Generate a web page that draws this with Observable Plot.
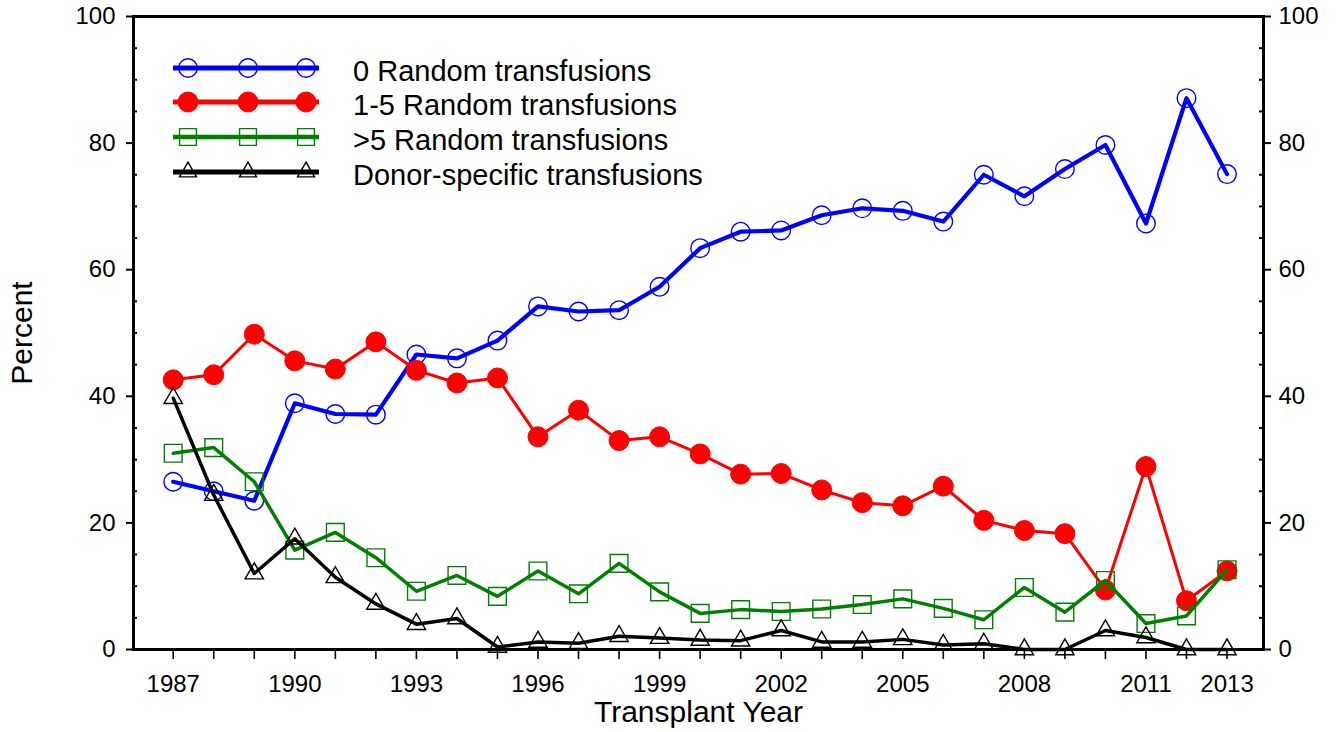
<!DOCTYPE html>
<html>
<head>
<meta charset="utf-8">
<script src="https://cdn.jsdelivr.net/npm/d3@7"></script>
<script src="https://cdn.jsdelivr.net/npm/@observablehq/plot@0.6"></script>
<style>
  html, body { margin: 0; padding: 0; background: #fff; }
  #wrap { position: relative; width: 1339px; height: 732px; font-family: "Liberation Sans", Arial, sans-serif; }
  #legend { position: absolute; left: 0; top: 0; pointer-events: none; }
</style>
</head>
<body>
<div id="wrap"></div>
<script>
// ---- data ----
const years = [1987,1988,1989,1990,1991,1992,1993,1994,1995,1996,1997,1998,1999,2000,2001,2002,2003,2004,2005,2006,2007,2008,2009,2010,2011,2012,2013];
const zeroRandom    = [26.5,25.0,23.5,38.9,37.2,37.1,46.6,46.0,48.8,54.2,53.4,53.6,57.3,63.4,66.0,66.2,68.6,69.7,69.3,67.6,75.0,71.6,75.9,79.7,67.3,87.1,75.1];
const oneToFive     = [42.6,43.4,49.8,45.6,44.3,48.6,44.1,42.1,42.9,33.6,37.8,33.0,33.6,30.9,27.7,27.8,25.2,23.2,22.7,25.8,20.4,18.8,18.3,9.4,28.9,7.7,12.4];
const overFive      = [31.0,31.9,26.5,15.7,18.5,14.5,9.2,11.7,8.4,12.4,8.8,13.6,9.1,5.7,6.3,6.0,6.4,7.1,8.0,6.5,4.7,9.8,5.9,10.9,4.1,5.3,12.6];
const donorSpecific = [39.7,24.4,12.0,17.5,11.4,7.2,4.0,4.9,0.4,1.2,1.0,2.1,1.8,1.5,1.4,3.0,1.2,1.2,1.6,0.7,0.9,0,0,3.0,1.9,0,0];
const seriesNames = ["0 Random transfusions","1-5 Random transfusions",">5 Random transfusions","Donor-specific transfusions"];
const labelYears = [1987,1990,1993,1996,1999,2002,2005,2008,2011,2013];
const yTicks = [0,20,40,60,80,100];
const yMinor = [5,10,15,25,30,35,45,50,55,65,70,75,85,90,95];
const xTitle = "Transplant Year";
const yTitle = "Percent";

const W = 1339, H = 732, ML = 133, MR = 76, MT = 16, MB = 83;
const innerW = W - ML - MR;

const styles = [
  {stroke: "#0000ff", width: 4.2, symbol: "circle",   r: 9.3, fill: "none",    sw: 1.4},
  {stroke: "#ff0000", width: 3,   symbol: "circle",   r: 10,  fill: "#ff0000", sw: 1},
  {stroke: "#008000", width: 3.5, symbol: "square",   r: 10,  fill: "none",    sw: 1.4},
  {stroke: "#000000", width: 3.5, symbol: "triangle", r: 6.8, fill: "none",    sw: 1.4}
];
const series = [zeroRandom, oneToFive, overFive, donorSpecific];

const marks = [];
series.forEach((vals, k) => {
  const s = styles[k];
  marks.push(Plot.line(vals, {x: (d, i) => years[i], y: d => d, stroke: s.stroke, strokeWidth: s.width, strokeLinejoin: "round"}));
  marks.push(Plot.dot(vals, {x: (d, i) => years[i], y: d => d, symbol: s.symbol, r: s.r, fill: s.fill, stroke: s.stroke, strokeWidth: s.sw}));
});

const chart = Plot.plot({
  width: W, height: H,
  marginLeft: ML, marginRight: MR, marginTop: MT, marginBottom: MB,
  style: {fontFamily: '"Liberation Sans", Arial, sans-serif', fontSize: "24px", color: "#000", background: "#fff"},
  x: {domain: [1986.02, 2013.9]},
  y: {domain: [0, 100]},
  marks: [
    Plot.axisX({ticks: years, tickSize: 10, tickPadding: 15, strokeWidth: 1.6, label: null,
      tickFormat: d => labelYears.includes(d) ? String(d) : ""}),
    Plot.axisY({anchor: "left", ticks: yTicks, tickSize: 7, tickPadding: 11, strokeWidth: 2, label: null}),
    Plot.axisY({anchor: "right", ticks: yTicks, tickSize: 7, tickPadding: 8, strokeWidth: 2, label: null}),
    Plot.tickY(yMinor, {y: d => d, insetRight: innerW - 4, strokeWidth: 2}),
    Plot.tickY(yMinor, {y: d => d, insetLeft: innerW - 4, strokeWidth: 2}),
    ...marks,
    Plot.frame({stroke: "#000", strokeWidth: 3}),
    Plot.text([xTitle], {frameAnchor: "bottom", dy: 63, fontSize: 30, lineAnchor: "middle", textAnchor: "middle"}),
    Plot.text([yTitle], {frameAnchor: "left", dx: -111, rotate: -90, fontSize: 30, lineAnchor: "middle", textAnchor: "middle"})
  ]
});
document.getElementById("wrap").appendChild(chart);

// ---- legend (overlay inside the plot area, top-left) ----
const leg = d3.select("#wrap").append("svg").attr("id", "legend").attr("width", W).attr("height", 200);
const symMap = {circle: d3.symbolCircle, square: d3.symbolSquare, triangle: d3.symbolTriangle};
const rowY = [68, 102, 137, 172];
const legLineWidth = [5, 5, 4.5, 5];
seriesNames.forEach((name, k) => {
  const s = styles[k];
  const y = rowY[k];
  leg.append("line").attr("x1", 173).attr("x2", 319).attr("y1", y).attr("y2", y)
    .attr("stroke", s.stroke).attr("stroke-width", legLineWidth[k]);
  [188, 248, 306].forEach(x => {
    const rr = k === 2 ? 9.5 : (k === 3 ? 6.3 : s.r);
    leg.append("path")
      .attr("d", d3.symbol(symMap[s.symbol], Math.PI * rr * rr)())
      .attr("transform", `translate(${x},${y})`)
      .attr("fill", s.fill).attr("stroke", s.stroke).attr("stroke-width", s.sw);
  });
  leg.append("text").attr("x", 353).attr("y", y + 3).attr("dy", "0.35em")
    .attr("font-size", 29).attr("font-family", '"Liberation Sans", Arial, sans-serif')
    .attr("fill", "#000").text(name);
});
</script>
</body>
</html>
